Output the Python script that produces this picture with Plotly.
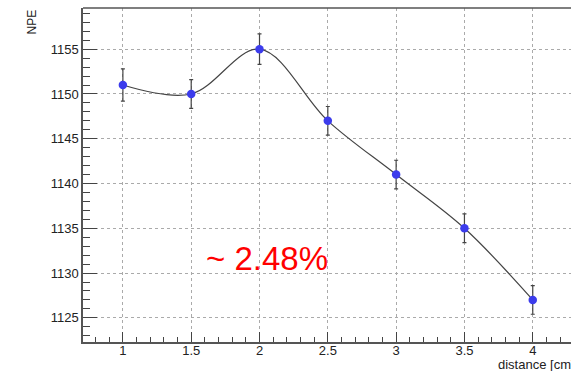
import plotly.graph_objects as go

distance = [1.0, 1.5, 2.0, 2.5, 3.0, 3.5, 4.0]
npe = [1151, 1150, 1155, 1147, 1141, 1135, 1127]
npe_err = [1.8, 1.6, 1.7, 1.6, 1.6, 1.6, 1.6]
x_ticks = [1, 1.5, 2, 2.5, 3, 3.5, 4]
y_ticks = [1125, 1130, 1135, 1140, 1145, 1150, 1155]

fig = go.Figure()
fig.add_trace(go.Scatter(
    x=distance, y=npe, mode="lines", line=dict(shape="spline", smoothing=1.0, color="#444444", width=1.2),
    hoverinfo="skip", showlegend=False))
fig.add_trace(go.Scatter(
    x=distance, y=npe, mode="markers",
    marker=dict(color="#3c3cec", size=8.5),
    error_y=dict(type="data", array=npe_err, color="#444444", thickness=1.2, width=2),
    showlegend=False))

axis_font = dict(family="Liberation Sans, Arial", size=13, color="#222222")
fig.update_layout(
    width=571, height=371,
    margin=dict(l=83, r=0, t=8, b=29),
    paper_bgcolor="white", plot_bgcolor="white",
    xaxis=dict(range=[0.708, 4.28], tickvals=x_ticks, ticktext=[str(v) for v in x_ticks],
               ticks="inside", ticklen=10, tickcolor="#444", tickwidth=1.2,
               minor=dict(dtick=0.1, tick0=0, ticks="inside", ticklen=5, tickcolor="#444", showgrid=False),
               showgrid=True, gridcolor="#aaa", griddash="dot", gridwidth=1,
               showline=True, linecolor="#555", linewidth=1.5, mirror=False,
               ticklabelstandoff=-4,
               tickfont=axis_font, zeroline=False),
    yaxis=dict(range=[1122.3, 1159.6], tickvals=y_ticks, ticktext=[str(v) for v in y_ticks],
               ticks="inside", ticklen=14, tickcolor="#444", tickwidth=1.2,
               minor=dict(dtick=1, tick0=1120, ticks="inside", ticklen=7, tickcolor="#444", showgrid=False),
               showgrid=True, gridcolor="#aaa", griddash="dot", gridwidth=1,
               showline=True, linecolor="#555", linewidth=1.5, mirror=False,
               tickfont=axis_font, zeroline=False),
    shapes=[dict(type="line", xref="paper", yref="paper", x0=0, x1=1, y0=1, y1=1,
                 line=dict(color="#555", width=1.5))],
    annotations=[
        dict(text="~ 2.48%", xref="paper", yref="paper", x=(204 - 83) / 488, y=(371 - 29 - 258) / 334,
             xanchor="left", yanchor="middle", showarrow=False,
             font=dict(family="Liberation Sans, Arial", size=33, color="#ff0000")),
        dict(text="NPE", xref="paper", yref="paper", x=-(83 - 31) / 488, y=1.0, textangle=-90,
             xanchor="center", yanchor="top", showarrow=False,
             font=dict(family="Liberation Sans, Arial", size=12, color="#222222")),
        dict(text="distance [cm]", xref="paper", yref="paper", x=(496 - 83) / 488, y=-(364 - 342) / 334,
             xanchor="left", yanchor="middle", showarrow=False,
             font=dict(family="Liberation Sans, Arial", size=13, color="#222222")),
    ],
)
fig.write_html("out.html")
